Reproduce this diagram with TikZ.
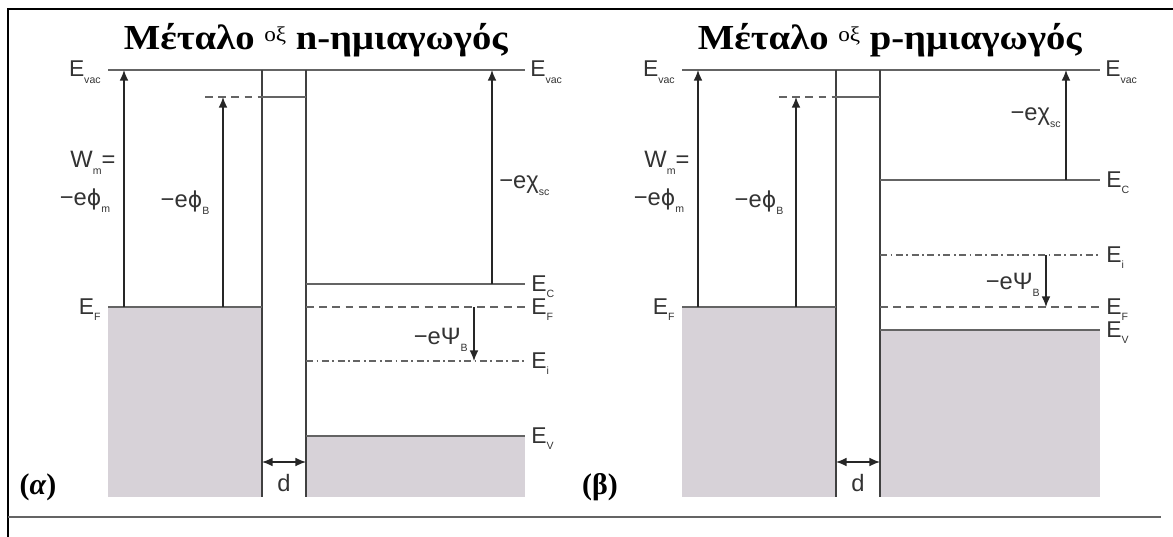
\documentclass[tikz,border=0pt]{standalone}
\usepackage{fontspec}
\setmainfont{Liberation Serif}
\newfontfamily\labfont{Liberation Sans}
\newfontfamily\phifont{DejaVu Sans}
\usetikzlibrary{arrows.meta,positioning}
\definecolor{bandgray}{RGB}{215,210,216}
\definecolor{levelgray}{RGB}{100,100,100}
\newcommand{\lsub}[1]{\raisebox{-0.55ex}{\fontsize{6}{7}\selectfont #1}}
\newcommand{\phisym}{{\phifont\fontsize{12.5}{14}\selectfont ϕ}}

\begin{document}
\begin{tikzpicture}[x=0.02cm, y=-0.02cm,
            level/.style={line width=1.25pt, draw=levelgray},
            fermi/.style={level, dash pattern=on 4.5pt off 3pt},
            intrinsic/.style={level, line width=1pt, dash pattern=on 4pt off 2pt on 1pt off 2pt},
            wall/.style={line width=1.2pt, draw=black!75},
            arrow/.style={-{Latex[length=6pt,width=5pt]}, line width=0.85pt, draw=black!85},
            elab/.style={font=\labfont\fontsize{13}{15}\selectfont, inner sep=0pt, text=black!80},
            qlab/.style={font=\labfont\fontsize{13.5}{15}\selectfont, inner sep=0pt, text=black!80},
            title/.style={font=\fontsize{20}{24}\selectfont, inner sep=0pt},
            panel/.style={font=\bfseries\fontsize{17}{19}\selectfont, inner sep=0pt}
        ]
            \useasboundingbox (0,0) rectangle (1173,537);
            % frame
            \draw[line width=1.7pt] (8,537) -- (8,9) -- (1173,9);
            \draw[line width=1.7pt, draw=levelgray] (8,517) -- (1161,517);

            % (a) metal - oxide - n-type
            \fill[bandgray] (108,307) rectangle (262,497);
            \fill[bandgray] (306,436) rectangle (525,497);
            \coordinate (vacLa) at (108,70);
            \coordinate (vacRa) at (525,70);
            \coordinate (oxLa) at (262,70);
            \coordinate (oxRa) at (306,70);
            \coordinate (oxBa) at (262,497);
            \coordinate (oxCa) at (306,497);
            \coordinate (barLa) at (205,97);
            \coordinate (barMa) at (262,97);
            \coordinate (barRa) at (306,97);
            \coordinate (efMa) at (108,307);
            \coordinate (efOa) at (262,307);
            \coordinate (ecLa) at (306,284);
            \coordinate (ecRa) at (525,284);
            \coordinate (efLa) at (306,307);
            \coordinate (efRa) at (525,307);
            \coordinate (eiLa) at (306,361);
            \coordinate (eiRa) at (525,361);
            \coordinate (evLa) at (306,436);
            \coordinate (evRa) at (525,436);

            \draw[level] (vacLa) -- (vacRa);
            \draw[wall] (oxLa) -- (oxBa);
            \draw[wall] (oxRa) -- (oxCa);
            \draw[fermi] (barLa) -- (barMa);
            \draw[level] (barMa) -- (barRa);
            \draw[level] (efMa) -- (efOa);
            \draw[level] (ecLa) -- (ecRa);
            \draw[fermi] (efLa) -- (efRa);
            \draw[intrinsic] (eiLa) -- (eiRa);
            \draw[level] (evLa) -- (evRa);

            \coordinate (wmBa) at (124,307);
            \coordinate (phBa) at (223,307);
            \coordinate (chBa) at (492,284);
            \coordinate (psBa) at (474,307);
            \coordinate (dLa) at (262,462);
            \coordinate (dRa) at (306,462);
            \draw[arrow] (wmBa) -- (wmBa |- vacLa);
            \draw[arrow] (phBa) -- (phBa |- barLa);
            \draw[arrow] (chBa) -- (chBa |- vacRa);
            \draw[arrow] (psBa) -- (psBa |- eiLa);
            \draw[arrow, {Latex[length=6pt,width=5pt]}-{Latex[length=6pt,width=5pt]}] (dLa) -- (dRa);

            \node (titleA) [title] at (316,40) {\scalebox{1.1}[1]{\textbf{Μέταλο} \raisebox{0.5ex}{\fontsize{12}{14}\selectfont οξ}\ \textbf{n-ημιαγωγός}}};
            \node (vacTa) [elab, anchor=base east] at (101,77) {E\lsub{vac}};
            \node (vacUa) [elab, anchor=base west] at (530,77) {E\lsub{vac}};
            \node (ecTa) [elab, anchor=base west] at (531,291) {E\lsub{C}};
            \node (efTa) [elab, anchor=base west] at (531,314) {E\lsub{F}};
            \node (eiTa) [elab, anchor=base west] at (531,368) {E\lsub{i}};
            \node (evTa) [elab, anchor=base west] at (531,443) {E\lsub{V}};
            \node (efMTa) [elab, anchor=base east] at (101,314) {E\lsub{F}};
            \node (wmTa) [qlab] at (93,163) {W\lsub{m}=};
            \node (wmUa) [qlab] at (85,201) {−e\phisym\lsub{m}};
            \node (phTa) [qlab] at (185,203) {−e\phisym\lsub{B}};
            \node (chTa) [qlab, anchor=west] at (499,186) {−eχ\lsub{sc}};
            \node (psTa) [qlab, anchor=east] at (468,340) {−eΨ\lsub{B}};
            \node (dTa) [qlab] at (284,483) {d};
            \node (panA) [panel] at (38,487) {(\textit{α})};

            % (b) metal - oxide - p-type
            \fill[bandgray] (682,307) rectangle (836,497);
            \fill[bandgray] (880,330) rectangle (1100,497);
            \coordinate (vacLb) at (682,70);
            \coordinate (vacRb) at (1100,70);
            \coordinate (oxLb) at (836,70);
            \coordinate (oxRb) at (880,70);
            \coordinate (oxBb) at (836,497);
            \coordinate (oxCb) at (880,497);
            \coordinate (barLb) at (779,97);
            \coordinate (barMb) at (836,97);
            \coordinate (barRb) at (880,97);
            \coordinate (efMb) at (682,307);
            \coordinate (efOb) at (836,307);
            \coordinate (ecLb) at (880,180);
            \coordinate (ecRb) at (1100,180);
            \coordinate (eiLb) at (880,255);
            \coordinate (eiRb) at (1100,255);
            \coordinate (efLb) at (880,307);
            \coordinate (efRb) at (1100,307);
            \coordinate (evLb) at (880,330);
            \coordinate (evRb) at (1100,330);

            \draw[level] (vacLb) -- (vacRb);
            \draw[wall] (oxLb) -- (oxBb);
            \draw[wall] (oxRb) -- (oxCb);
            \draw[fermi] (barLb) -- (barMb);
            \draw[level] (barMb) -- (barRb);
            \draw[level] (efMb) -- (efOb);
            \draw[level] (ecLb) -- (ecRb);
            \draw[intrinsic] (eiLb) -- (eiRb);
            \draw[fermi] (efLb) -- (efRb);
            \draw[level] (evLb) -- (evRb);

            \coordinate (wmBb) at (698,307);
            \coordinate (phBb) at (796,307);
            \coordinate (chBb) at (1066,180);
            \coordinate (psBb) at (1046,255);
            \coordinate (dLb) at (836,462);
            \coordinate (dRb) at (880,462);
            \draw[arrow] (wmBb) -- (wmBb |- vacLb);
            \draw[arrow] (phBb) -- (phBb |- barLb);
            \draw[arrow] (chBb) -- (chBb |- vacRb);
            \draw[arrow] (psBb) -- (psBb |- efLb);
            \draw[arrow, {Latex[length=6pt,width=5pt]}-{Latex[length=6pt,width=5pt]}] (dLb) -- (dRb);

            \node (titleB) [title] at (890,40) {\scalebox{1.1}[1]{\textbf{Μέταλο} \raisebox{0.5ex}{\fontsize{12}{14}\selectfont οξ}\ \textbf{p-ημιαγωγός}}};
            \node (vacTb) [elab, anchor=base east] at (675,77) {E\lsub{vac}};
            \node (vacUb) [elab, anchor=base west] at (1105,77) {E\lsub{vac}};
            \node (ecTb) [elab, anchor=base west] at (1106,187) {E\lsub{C}};
            \node (eiTb) [elab, anchor=base west] at (1106,262) {E\lsub{i}};
            \node (efTb) [elab, anchor=base west] at (1106,314) {E\lsub{F}};
            \node (evTb) [elab, anchor=base west] at (1106,337) {E\lsub{V}};
            \node (efMTb) [elab, anchor=base east] at (675,314) {E\lsub{F}};
            \node (wmTb) [qlab] at (667,163) {W\lsub{m}=};
            \node (wmUb) [qlab] at (659,201) {−e\phisym\lsub{m}};
            \node (phTb) [qlab] at (759,203) {−e\phisym\lsub{B}};
            \node (chTb) [qlab, anchor=east] at (1061,118) {−eχ\lsub{sc}};
            \node (psTb) [qlab, anchor=east] at (1040,285) {−eΨ\lsub{B}};
            \node (dTb) [qlab] at (858,483) {d};
            \node (panB) [panel] at (600,487) {(β)};
        \end{tikzpicture}
\end{document}
